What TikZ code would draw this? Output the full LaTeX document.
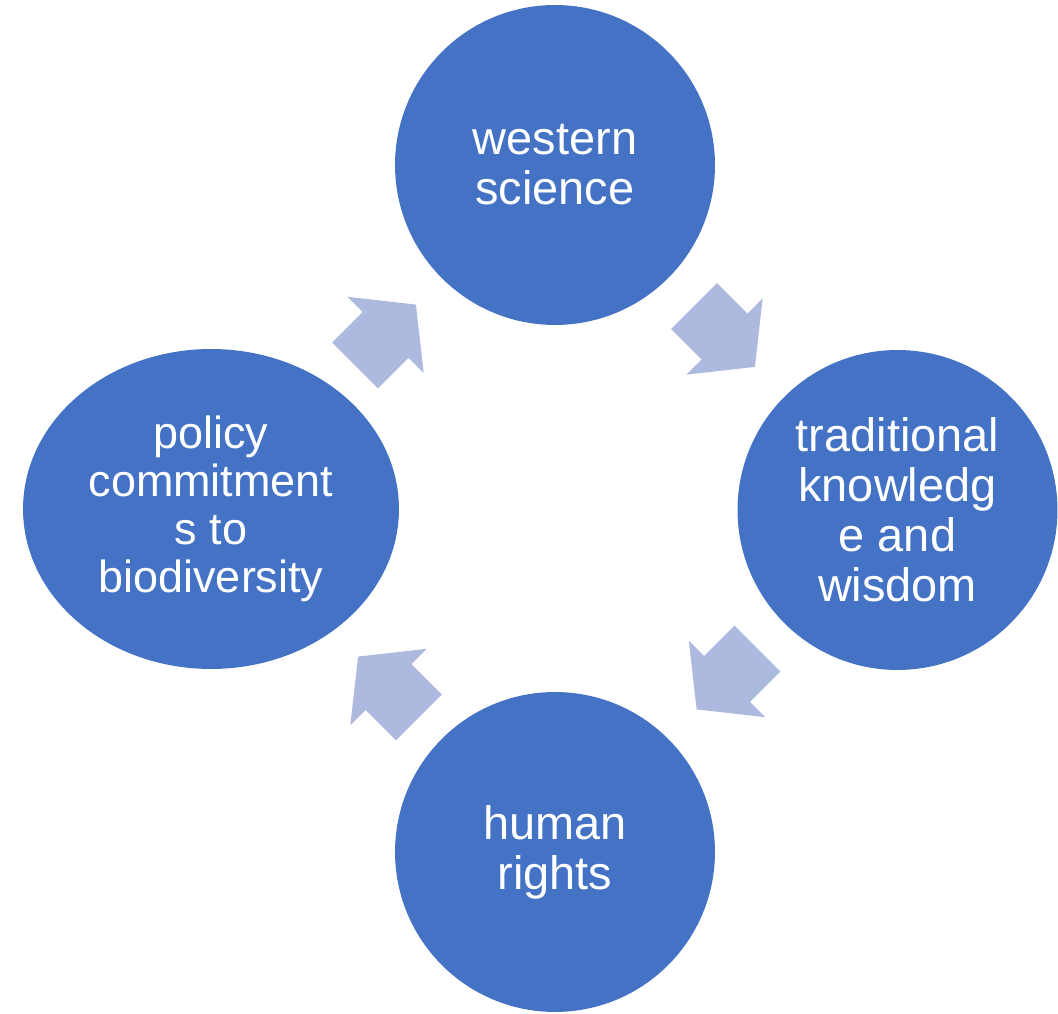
\documentclass[tikz,border=0pt]{standalone}
\usepackage{fontspec}
\setmainfont{Liberation Sans}
\usepackage{xcolor}
\usepackage{tikz}
\usetikzlibrary{positioning, shapes.geometric}
\definecolor{myblue}{HTML}{4472C4}
\definecolor{mylightblue}{HTML}{ADB9DF}
\tikzset{
  % Cerchi del ciclo
  cycle node/.style={circle,fill=myblue,draw=none,minimum size=6.4cm,inner sep=0,
    text=white,align=center,font=\fontsize{26.7}{28.4}\selectfont},
  cycle oval/.style={cycle node,ellipse,minimum width=7.52cm,minimum height=6.4cm,
    font=\fontsize{25.6}{27.3}\selectfont},
  % Frecce a blocco
  cycle arrow/.pic={
    \fill[mylightblue] (-43,-32.5) -- (0,-32.5) -- (0,-54) -- (43,0)
      -- (0,54) -- (0,32.5) -- (-43,32.5) -- cycle;
  }
}
\begin{document}
\begin{tikzpicture}[x=0.02cm,y=0.02cm]
    \useasboundingbox (0,0) rectangle (1058,1014);
    \node[cycle node] (science) at (555,849) {western\\science};
    \node[cycle node] (wisdom) at (897.5,504) {traditional\\knowledg\\e and\\wisdom};
    \node[cycle node] (rights) at (555,162) {human\\rights};
    \node[cycle oval] (policy) at (211,505) {policy\\commitment\\s to\\biodiversity};
    % frecce tra i cerchi
    \pic[rotate=-45] (arrow1) at (724.5,677.5) {cycle arrow};
    \pic[rotate=-135] (arrow2) at (727,335) {cycle arrow};
    \pic[rotate=135] (arrow3) at (388.5,327) {cycle arrow};
    \pic[rotate=45] (arrow4) at (385.5,679) {cycle arrow};
  \end{tikzpicture}
\end{document}
